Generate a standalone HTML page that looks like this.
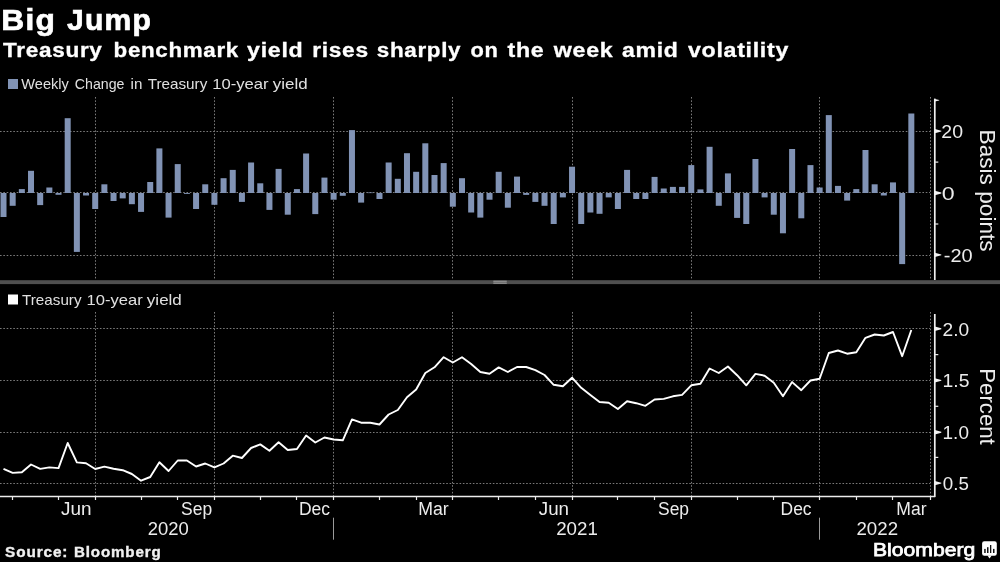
<!DOCTYPE html>
<html><head><meta charset="utf-8"><style>
html,body{margin:0;padding:0;background:#000;}
body{width:1000px;height:562px;overflow:hidden;position:relative;font-family:"Liberation Sans",sans-serif;}
svg{position:absolute;left:0;top:0;will-change:transform;}
.g{stroke:#7a7a7a;stroke-width:1;stroke-dasharray:1.6 1.73;}
.gv{stroke:#7a7a7a;stroke-width:1;stroke-dasharray:1.6 1.73;}
.ax{stroke:#f0f0f0;stroke-width:1.7;fill:none;}
.ax1{stroke:#e8e8e8;stroke-width:1.2;fill:none;}
.axx{stroke:#ececec;stroke-width:1.4;fill:none;}
.tk{stroke:#e6e6e6;stroke-width:1.6;fill:none;}
.yl{font-family:"Liberation Sans",sans-serif;font-size:18px;fill:#ececec;}
.at{font-family:"Liberation Sans",sans-serif;font-size:22px;fill:#ececec;}
.ml{font-family:"Liberation Sans",sans-serif;font-size:18px;fill:#ececec;}
.t1{font-family:"Liberation Sans",sans-serif;font-weight:bold;font-size:30px;fill:#fff;letter-spacing:1.2px;stroke:#fff;stroke-width:0.7px;}
.t2{font-family:"Liberation Sans",sans-serif;font-weight:bold;font-size:20px;fill:#fff;letter-spacing:0.6px;stroke:#fff;stroke-width:0.3px;}
.lg{font-family:"Liberation Sans",sans-serif;font-size:15px;fill:#e0e0e0;}
.src{font-family:"Liberation Sans",sans-serif;font-weight:bold;font-size:14px;fill:#f0f0f0;letter-spacing:0.8px;stroke:#f0f0f0;stroke-width:0.35px;}
.bb{font-family:"Liberation Sans",sans-serif;font-size:18.3px;fill:#fff;stroke:#fff;stroke-width:0.75px;}
</style></head><body>
<svg width="1000" height="562" viewBox="0 0 1000 562">
<text x="1.20" y="30.1" class="t1" textLength="54.95" lengthAdjust="spacingAndGlyphs">Big</text><text x="67.10" y="30.1" class="t1" textLength="84.95" lengthAdjust="spacingAndGlyphs">Jump</text>
<text x="3.00" y="56.6" class="t2" textLength="99.60" lengthAdjust="spacingAndGlyphs">Treasury</text><text x="113.58" y="56.6" class="t2" textLength="125.32" lengthAdjust="spacingAndGlyphs">benchmark</text><text x="247.10" y="56.6" class="t2" textLength="56.34" lengthAdjust="spacingAndGlyphs">yield</text><text x="312.22" y="56.6" class="t2" textLength="56.55" lengthAdjust="spacingAndGlyphs">rises</text><text x="376.76" y="56.6" class="t2" textLength="84.48" lengthAdjust="spacingAndGlyphs">sharply</text><text x="470.50" y="56.6" class="t2" textLength="28.00" lengthAdjust="spacingAndGlyphs">on</text><text x="507.50" y="56.6" class="t2" textLength="36.90" lengthAdjust="spacingAndGlyphs">the</text><text x="553.80" y="56.6" class="t2" textLength="59.53" lengthAdjust="spacingAndGlyphs">week</text><text x="622.13" y="56.6" class="t2" textLength="56.42" lengthAdjust="spacingAndGlyphs">amid</text><text x="688.00" y="56.6" class="t2" textLength="101.02" lengthAdjust="spacingAndGlyphs">volatility</text>
<rect x="8" y="79" width="10" height="10" fill="#8193b5"/>
<text x="21.30" y="88.9" class="lg" textLength="47.50" lengthAdjust="spacingAndGlyphs">Weekly</text><text x="74.84" y="88.9" class="lg" textLength="49.62" lengthAdjust="spacingAndGlyphs">Change</text><text x="130.55" y="88.9" class="lg" textLength="11.80" lengthAdjust="spacingAndGlyphs">in</text><text x="147.70" y="88.9" class="lg" textLength="59.60" lengthAdjust="spacingAndGlyphs">Treasury</text><text x="212.23" y="88.9" class="lg" textLength="56.37" lengthAdjust="spacingAndGlyphs">10-year</text><text x="272.79" y="88.9" class="lg" textLength="34.84" lengthAdjust="spacingAndGlyphs">yield</text>
<rect x="8" y="294.5" width="10" height="10" fill="#fff"/>
<text x="22.10" y="305" class="lg" textLength="59.40" lengthAdjust="spacingAndGlyphs">Treasury</text><text x="86.53" y="305" class="lg" textLength="56.17" lengthAdjust="spacingAndGlyphs">10-year</text><text x="146.88" y="305" class="lg" textLength="34.95" lengthAdjust="spacingAndGlyphs">yield</text>
<line x1="0" y1="131.5" x2="930" y2="131.5" class="g"/>
<line x1="0" y1="192.5" x2="930" y2="192.5" class="g"/>
<line x1="0" y1="255.5" x2="930" y2="255.5" class="g"/>
<line x1="95.5" y1="97" x2="95.5" y2="280" class="gv"/>
<line x1="214.5" y1="97" x2="214.5" y2="280" class="gv"/>
<line x1="333.5" y1="97" x2="333.5" y2="280" class="gv"/>
<line x1="452.5" y1="97" x2="452.5" y2="280" class="gv"/>
<line x1="572.5" y1="97" x2="572.5" y2="280" class="gv"/>
<line x1="691.5" y1="97" x2="691.5" y2="280" class="gv"/>
<line x1="819.5" y1="97" x2="819.5" y2="280" class="gv"/>
<line x1="930.5" y1="97" x2="930.5" y2="280" class="gv"/>
<rect x="0.50" y="193.00" width="6.0" height="24.00" fill="#8193b5"/>
<rect x="9.67" y="193.00" width="6.0" height="12.80" fill="#8193b5"/>
<rect x="18.84" y="189.10" width="6.0" height="3.90" fill="#8193b5"/>
<rect x="28.01" y="170.80" width="6.0" height="22.20" fill="#8193b5"/>
<rect x="37.18" y="193.00" width="6.0" height="12.10" fill="#8193b5"/>
<rect x="46.35" y="187.50" width="6.0" height="5.50" fill="#8193b5"/>
<rect x="55.52" y="193.00" width="6.0" height="1.80" fill="#8193b5"/>
<rect x="64.69" y="118.20" width="6.0" height="74.80" fill="#8193b5"/>
<rect x="73.86" y="193.00" width="6.0" height="58.90" fill="#8193b5"/>
<rect x="83.03" y="193.00" width="6.0" height="2.50" fill="#8193b5"/>
<rect x="92.20" y="193.00" width="6.0" height="16.00" fill="#8193b5"/>
<rect x="101.37" y="184.30" width="6.0" height="8.70" fill="#8193b5"/>
<rect x="110.54" y="193.00" width="6.0" height="8.00" fill="#8193b5"/>
<rect x="119.71" y="193.00" width="6.0" height="5.40" fill="#8193b5"/>
<rect x="128.88" y="193.00" width="6.0" height="11.20" fill="#8193b5"/>
<rect x="138.05" y="193.00" width="6.0" height="18.90" fill="#8193b5"/>
<rect x="147.22" y="182.00" width="6.0" height="11.00" fill="#8193b5"/>
<rect x="156.39" y="148.40" width="6.0" height="44.60" fill="#8193b5"/>
<rect x="165.56" y="193.00" width="6.0" height="24.60" fill="#8193b5"/>
<rect x="174.73" y="164.10" width="6.0" height="28.90" fill="#8193b5"/>
<rect x="183.90" y="193.00" width="6.0" height="0.90" fill="#8193b5"/>
<rect x="193.07" y="193.00" width="6.0" height="16.00" fill="#8193b5"/>
<rect x="202.24" y="184.30" width="6.0" height="8.70" fill="#8193b5"/>
<rect x="211.41" y="193.00" width="6.0" height="11.80" fill="#8193b5"/>
<rect x="220.58" y="178.20" width="6.0" height="14.80" fill="#8193b5"/>
<rect x="229.75" y="169.90" width="6.0" height="23.10" fill="#8193b5"/>
<rect x="238.92" y="193.00" width="6.0" height="8.90" fill="#8193b5"/>
<rect x="248.09" y="162.50" width="6.0" height="30.50" fill="#8193b5"/>
<rect x="257.26" y="183.30" width="6.0" height="9.70" fill="#8193b5"/>
<rect x="266.43" y="193.00" width="6.0" height="16.90" fill="#8193b5"/>
<rect x="275.60" y="168.90" width="6.0" height="24.10" fill="#8193b5"/>
<rect x="284.77" y="193.00" width="6.0" height="21.70" fill="#8193b5"/>
<rect x="293.94" y="189.10" width="6.0" height="3.90" fill="#8193b5"/>
<rect x="303.11" y="153.50" width="6.0" height="39.50" fill="#8193b5"/>
<rect x="312.28" y="193.00" width="6.0" height="21.10" fill="#8193b5"/>
<rect x="321.45" y="177.60" width="6.0" height="15.40" fill="#8193b5"/>
<rect x="330.62" y="193.00" width="6.0" height="6.70" fill="#8193b5"/>
<rect x="339.79" y="193.00" width="6.0" height="2.80" fill="#8193b5"/>
<rect x="348.96" y="130.10" width="6.0" height="62.90" fill="#8193b5"/>
<rect x="358.13" y="193.00" width="6.0" height="9.60" fill="#8193b5"/>
<rect x="367.30" y="192.50" width="6.0" height="0.60" fill="#8193b5"/>
<rect x="376.47" y="193.00" width="6.0" height="6.00" fill="#8193b5"/>
<rect x="385.64" y="162.50" width="6.0" height="30.50" fill="#8193b5"/>
<rect x="394.81" y="178.80" width="6.0" height="14.20" fill="#8193b5"/>
<rect x="403.98" y="153.20" width="6.0" height="39.80" fill="#8193b5"/>
<rect x="413.15" y="171.80" width="6.0" height="21.20" fill="#8193b5"/>
<rect x="422.32" y="143.30" width="6.0" height="49.70" fill="#8193b5"/>
<rect x="431.49" y="175.00" width="6.0" height="18.00" fill="#8193b5"/>
<rect x="440.66" y="163.10" width="6.0" height="29.90" fill="#8193b5"/>
<rect x="449.83" y="193.00" width="6.0" height="13.70" fill="#8193b5"/>
<rect x="459.00" y="178.20" width="6.0" height="14.80" fill="#8193b5"/>
<rect x="468.17" y="193.00" width="6.0" height="19.50" fill="#8193b5"/>
<rect x="477.34" y="193.00" width="6.0" height="24.60" fill="#8193b5"/>
<rect x="486.51" y="193.00" width="6.0" height="6.70" fill="#8193b5"/>
<rect x="495.68" y="171.80" width="6.0" height="21.20" fill="#8193b5"/>
<rect x="504.85" y="193.00" width="6.0" height="14.70" fill="#8193b5"/>
<rect x="514.02" y="176.60" width="6.0" height="16.40" fill="#8193b5"/>
<rect x="523.19" y="193.00" width="6.0" height="1.90" fill="#8193b5"/>
<rect x="532.36" y="193.00" width="6.0" height="8.90" fill="#8193b5"/>
<rect x="541.53" y="193.00" width="6.0" height="12.80" fill="#8193b5"/>
<rect x="550.70" y="193.00" width="6.0" height="31.00" fill="#8193b5"/>
<rect x="559.87" y="193.00" width="6.0" height="4.40" fill="#8193b5"/>
<rect x="569.04" y="166.70" width="6.0" height="26.30" fill="#8193b5"/>
<rect x="578.21" y="193.00" width="6.0" height="31.00" fill="#8193b5"/>
<rect x="587.38" y="193.00" width="6.0" height="19.50" fill="#8193b5"/>
<rect x="596.55" y="193.00" width="6.0" height="20.80" fill="#8193b5"/>
<rect x="605.72" y="193.00" width="6.0" height="4.40" fill="#8193b5"/>
<rect x="614.89" y="193.00" width="6.0" height="16.00" fill="#8193b5"/>
<rect x="624.06" y="169.90" width="6.0" height="23.10" fill="#8193b5"/>
<rect x="633.23" y="193.00" width="6.0" height="6.00" fill="#8193b5"/>
<rect x="642.40" y="193.00" width="6.0" height="6.00" fill="#8193b5"/>
<rect x="651.57" y="176.90" width="6.0" height="16.10" fill="#8193b5"/>
<rect x="660.74" y="188.50" width="6.0" height="4.50" fill="#8193b5"/>
<rect x="669.91" y="186.90" width="6.0" height="6.10" fill="#8193b5"/>
<rect x="679.08" y="186.90" width="6.0" height="6.10" fill="#8193b5"/>
<rect x="688.25" y="165.10" width="6.0" height="27.90" fill="#8193b5"/>
<rect x="697.42" y="189.40" width="6.0" height="3.60" fill="#8193b5"/>
<rect x="706.59" y="146.80" width="6.0" height="46.20" fill="#8193b5"/>
<rect x="715.76" y="193.00" width="6.0" height="12.80" fill="#8193b5"/>
<rect x="724.93" y="173.40" width="6.0" height="19.60" fill="#8193b5"/>
<rect x="734.10" y="193.00" width="6.0" height="24.90" fill="#8193b5"/>
<rect x="743.27" y="193.00" width="6.0" height="31.00" fill="#8193b5"/>
<rect x="752.44" y="159.00" width="6.0" height="34.00" fill="#8193b5"/>
<rect x="761.61" y="193.00" width="6.0" height="4.40" fill="#8193b5"/>
<rect x="770.78" y="193.00" width="6.0" height="21.70" fill="#8193b5"/>
<rect x="779.95" y="193.00" width="6.0" height="40.30" fill="#8193b5"/>
<rect x="789.12" y="149.00" width="6.0" height="44.00" fill="#8193b5"/>
<rect x="798.29" y="193.00" width="6.0" height="25.30" fill="#8193b5"/>
<rect x="807.46" y="165.10" width="6.0" height="27.90" fill="#8193b5"/>
<rect x="816.63" y="187.50" width="6.0" height="5.50" fill="#8193b5"/>
<rect x="825.80" y="115.10" width="6.0" height="77.90" fill="#8193b5"/>
<rect x="834.97" y="185.90" width="6.0" height="7.10" fill="#8193b5"/>
<rect x="844.14" y="193.00" width="6.0" height="7.60" fill="#8193b5"/>
<rect x="853.31" y="189.10" width="6.0" height="3.90" fill="#8193b5"/>
<rect x="862.48" y="150.00" width="6.0" height="43.00" fill="#8193b5"/>
<rect x="871.65" y="184.30" width="6.0" height="8.70" fill="#8193b5"/>
<rect x="880.82" y="193.00" width="6.0" height="2.50" fill="#8193b5"/>
<rect x="889.99" y="182.40" width="6.0" height="10.60" fill="#8193b5"/>
<rect x="899.16" y="193.00" width="6.0" height="71.10" fill="#8193b5"/>
<rect x="908.33" y="113.50" width="6.0" height="79.50" fill="#8193b5"/>
<path d="M934.8 98.6 V280" class="ax"/>
<path d="M934.8 98.9 L939.2 100.0 L939.2 100.6 L934.8 101.6Z" fill="#f2f2f2"/>
<path d="M934.8 128.9 L941.3 130.65 L941.3 131.54999999999998 L934.8 133.29999999999998Z" fill="#f2f2f2"/>
<path d="M934.8 190.8 L941.3 192.55 L941.3 193.45 L934.8 195.2Z" fill="#f2f2f2"/>
<path d="M934.8 252.70000000000002 L941.3 254.45000000000002 L941.3 255.35 L934.8 257.1Z" fill="#f2f2f2"/>
<path d="M934.8 162.1 H938.3" class="ax1"/>
<path d="M934.8 224.0 H938.3" class="ax1"/>
<text x="941.31" y="137.95" class="yl" textLength="21.68" lengthAdjust="spacingAndGlyphs">20</text><text x="941.71" y="199.85" class="yl" textLength="12.88" lengthAdjust="spacingAndGlyphs">0</text><text x="943.77" y="261.75" class="yl" textLength="28.84" lengthAdjust="spacingAndGlyphs">-20</text><text x="942.55" y="335.65" class="yl" textLength="26.61" lengthAdjust="spacingAndGlyphs">2.0</text><text x="942.55" y="387.25" class="yl" textLength="26.91" lengthAdjust="spacingAndGlyphs">1.5</text><text x="942.58" y="439.05" class="yl" textLength="26.36" lengthAdjust="spacingAndGlyphs">1.0</text><text x="942.86" y="489.95" class="yl" textLength="26.07" lengthAdjust="spacingAndGlyphs">0.5</text>
<text class="at" transform="translate(979.5,129.6) rotate(90)" textLength="122" lengthAdjust="spacingAndGlyphs">Basis points</text>
<rect x="0" y="280.2" width="1000" height="3.9" fill="#4f4f4f"/>
<rect x="493.4" y="280.5" width="13.3" height="3.4" fill="#6c6c6c"/>
<rect x="493.4" y="280.9" width="13.3" height="1" fill="#8e8e8e"/>
<rect x="493.4" y="282.8" width="13.3" height="1" fill="#8e8e8e"/>
<line x1="0" y1="328.5" x2="930" y2="328.5" class="g"/>
<line x1="0" y1="380.5" x2="930" y2="380.5" class="g"/>
<line x1="0" y1="432.5" x2="930" y2="432.5" class="g"/>
<line x1="0" y1="483.5" x2="930" y2="483.5" class="g"/>
<line x1="95.5" y1="312" x2="95.5" y2="496" class="gv"/>
<line x1="214.5" y1="312" x2="214.5" y2="496" class="gv"/>
<line x1="333.5" y1="312" x2="333.5" y2="496" class="gv"/>
<line x1="452.5" y1="312" x2="452.5" y2="496" class="gv"/>
<line x1="572.5" y1="312" x2="572.5" y2="496" class="gv"/>
<line x1="691.5" y1="312" x2="691.5" y2="496" class="gv"/>
<line x1="819.5" y1="312" x2="819.5" y2="496" class="gv"/>
<line x1="930.5" y1="312" x2="930.5" y2="496" class="gv"/>
<polyline points="3.50,468.9 12.67,472.9 21.84,472.3 31.01,464.5 40.18,468.9 49.35,467.4 58.52,468.1 67.69,443 76.86,462.4 86.03,463.3 95.20,469 104.37,466.6 113.54,468.7 122.71,470.2 131.88,474 141.05,480.7 150.22,477 159.39,462.3 168.56,471 177.73,460.5 186.90,460.5 196.07,466.5 205.24,463.5 214.41,467.4 223.58,463.5 232.75,455.7 241.92,458 251.09,448 260.26,444.4 269.43,450.7 278.60,442.2 287.77,450 296.94,449 306.11,435.5 315.28,442.5 324.45,437.5 333.62,439.5 342.79,440.3 351.96,419.4 361.13,422.7 370.30,422.7 379.47,424.5 388.64,414.5 397.81,410 406.98,397.2 416.15,389.5 425.32,373 434.49,367.3 443.66,357.2 452.83,362.5 462.00,357.2 471.17,364 480.34,372 489.51,373.7 498.68,367.4 507.85,372 517.02,367 526.19,367 535.36,370.1 544.53,375 553.70,384.8 562.87,386.3 572.04,377.7 581.21,387.8 590.38,395 599.55,402 608.72,402.8 617.89,409 627.06,401.3 636.23,403.2 645.40,405.8 654.57,399.5 663.74,398.9 672.91,396.3 682.08,394.9 691.25,385.3 700.42,383.8 709.59,368.5 718.76,373 727.93,366.5 737.10,375.2 746.27,385.3 755.44,373.9 764.61,375.7 773.78,382.7 782.95,396.2 792.12,382.1 801.29,390.2 810.46,380.5 819.63,378.7 828.80,353 837.97,350.5 847.14,353.7 856.31,352.2 865.48,337.8 874.65,334.5 883.82,335.5 892.99,332 902.16,356.2 911.33,330" fill="none" stroke="#fff" stroke-width="1.9" stroke-linejoin="round"/>
<path d="M934.8 314.0 V497.1" class="ax"/>
<path d="M934.8 326.6 L941.3 328.35 L941.3 329.25 L934.8 331.0Z" fill="#f2f2f2"/>
<path d="M934.8 378.2 L941.3 379.95 L941.3 380.84999999999997 L934.8 382.59999999999997Z" fill="#f2f2f2"/>
<path d="M934.8 430.1 L941.3 431.85 L941.3 432.75 L934.8 434.5Z" fill="#f2f2f2"/>
<path d="M934.8 480.90000000000003 L941.3 482.65000000000003 L941.3 483.55 L934.8 485.3Z" fill="#f2f2f2"/>
<path d="M934.8 354.6 H938.3" class="ax1"/>
<path d="M934.8 406.3 H938.3" class="ax1"/>
<path d="M934.8 457.4 H938.3" class="ax1"/>
<text class="at" transform="translate(979.5,368.2) rotate(90)" textLength="76.6" lengthAdjust="spacingAndGlyphs">Percent</text>
<path d="M0 496.5 H934.8" class="axx"/>
<path d="M12.5 496.5 V500" class="ax1"/>
<path d="M58.5 496.5 V500" class="ax1"/>
<path d="M95.5 496.5 V500" class="ax1"/>
<path d="M141.5 496.5 V500" class="ax1"/>
<path d="M177.5 496.5 V500" class="ax1"/>
<path d="M214.5 496.5 V500" class="ax1"/>
<path d="M260.5 496.5 V500" class="ax1"/>
<path d="M296.5 496.5 V500" class="ax1"/>
<path d="M333.5 496.5 V500" class="ax1"/>
<path d="M379.5 496.5 V500" class="ax1"/>
<path d="M416.5 496.5 V500" class="ax1"/>
<path d="M452.5 496.5 V500" class="ax1"/>
<path d="M498.5 496.5 V500" class="ax1"/>
<path d="M535.5 496.5 V500" class="ax1"/>
<path d="M572.5 496.5 V500" class="ax1"/>
<path d="M617.5 496.5 V500" class="ax1"/>
<path d="M654.5 496.5 V500" class="ax1"/>
<path d="M691.5 496.5 V500" class="ax1"/>
<path d="M737.5 496.5 V500" class="ax1"/>
<path d="M773.5 496.5 V500" class="ax1"/>
<path d="M819.5 496.5 V500" class="ax1"/>
<path d="M856.5 496.5 V500" class="ax1"/>
<path d="M892.5 496.5 V500" class="ax1"/>
<path d="M930.5 496.5 V500" class="ax1"/>
<text x="61.00" y="514.5" class="ml" textLength="30.53" lengthAdjust="spacingAndGlyphs">Jun</text><text x="181.05" y="514.5" class="ml" textLength="31.05" lengthAdjust="spacingAndGlyphs">Sep</text><text x="298.90" y="514.5" class="ml" textLength="31.11" lengthAdjust="spacingAndGlyphs">Dec</text><text x="418.18" y="514.5" class="ml" textLength="30.46" lengthAdjust="spacingAndGlyphs">Mar</text><text x="538.75" y="514.5" class="ml" textLength="30.26" lengthAdjust="spacingAndGlyphs">Jun</text><text x="658.00" y="514.5" class="ml" textLength="31.05" lengthAdjust="spacingAndGlyphs">Sep</text><text x="780.60" y="514.5" class="ml" textLength="31.00" lengthAdjust="spacingAndGlyphs">Dec</text><text x="896.29" y="514.5" class="ml" textLength="30.25" lengthAdjust="spacingAndGlyphs">Mar</text>
<text x="147.78" y="535.2" class="ml" textLength="41.05" lengthAdjust="spacingAndGlyphs">2020</text><text x="556.17" y="535.2" class="ml" textLength="41.66" lengthAdjust="spacingAndGlyphs">2021</text><text x="856.47" y="535.2" class="ml" textLength="41.55" lengthAdjust="spacingAndGlyphs">2022</text>
<path d="M333.5 517.7 V539.7 M819.5 517.7 V539.7" stroke="#9a9a9a" stroke-width="1"/>
<text x="5.10" y="556.8" class="src" textLength="63.17" lengthAdjust="spacingAndGlyphs">Source:</text><text x="74.01" y="556.8" class="src" textLength="87.58" lengthAdjust="spacingAndGlyphs">Bloomberg</text>
<text x="872.96" y="555.9" class="bb" textLength="102.28" lengthAdjust="spacingAndGlyphs">Bloomberg</text>
<g>
<rect x="982.1" y="541.2" width="14.7" height="14.5" rx="2.2" fill="#fff"/>
<path d="M987.5 555.5 L989.5 558.5 L991.7 555.5 Z" fill="#fff"/>
<rect x="984.2" y="548.9" width="1.5" height="4.1" fill="#111"/>
<rect x="987" y="547.2" width="1.5" height="5.8" fill="#111"/>
<rect x="990" y="545" width="1.3" height="8" fill="#111"/>
<rect x="993" y="548.9" width="1.5" height="4.1" fill="#111"/>
</g>
</svg>
</body></html>
